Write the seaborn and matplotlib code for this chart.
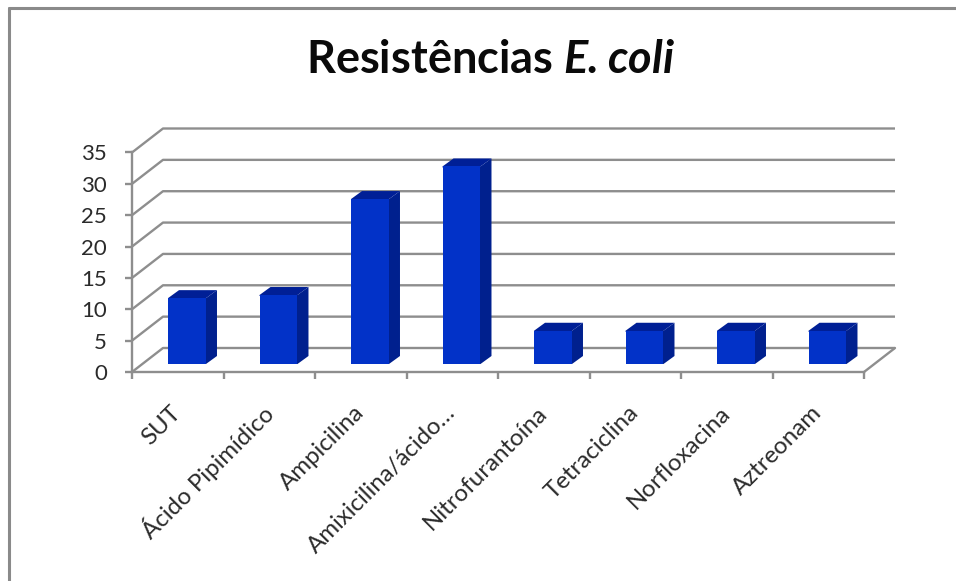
import matplotlib
matplotlib.use("Agg")
import matplotlib.pyplot as plt
from matplotlib.lines import Line2D
from matplotlib.patches import Polygon
import seaborn as sns

categories = ["SUT", "Ácido Pipimídico", "Ampicilina", "Amixicilina/ácido…",
              "Nitrofurantoína", "Tetraciclina", "Norfloxacina", "Aztreonam"]
resistance = [10.5, 11.0, 26.3, 31.5, 5.3, 5.3, 5.3, 5.3]
y_ticks = [0, 5, 10, 15, 20, 25, 30, 35]

W, H = 956, 581
LEFT, RIGHT, BASE, TOP = 132, 864, 372, 152.5
PX_X = (RIGHT - LEFT) / len(categories)
PX_Y = (BASE - TOP) / 35

FRONT = "#0232C8"
SIDE = "#00208E"
CAP = "#001F96"
GRID = "#8E8E8E"
TEXT = "#2B2B2B"

sns.set_theme(style="white")
plt.rcParams["font.family"] = ["Lato", "DejaVu Sans"]
plt.rcParams["mathtext.fontset"] = "custom"
plt.rcParams["mathtext.bfit"] = "Lato:italic:bold"
plt.rcParams["mathtext.rm"] = "Lato:bold"

fig = plt.figure(figsize=(W / 100, H / 100), dpi=100, facecolor="white")


def box(dx=0.0, dy=0.0):
    return [(LEFT + dx) / W, (H - BASE + dy) / H, (RIGHT - LEFT) / W, (BASE - TOP) / H]


# Front plane: axis lines, ticks and the receding floor and wall grid
ax = fig.add_axes(box())
ax.set_xlim(-0.5, len(categories) - 0.5)
ax.set_ylim(0, 35)
ax.patch.set_alpha(0)
for side in ("top", "right"):
    ax.spines[side].set_visible(False)
for side in ("left", "bottom"):
    ax.spines[side].set_color(GRID)
    ax.spines[side].set_linewidth(1.7)

depth_x = 31 / PX_X
depth_y = 24 / PX_Y
x0, x1 = ax.get_xlim()
for v in y_ticks:
    ax.plot([x0, x0 + depth_x, x1 + depth_x], [v, v + depth_y, v + depth_y],
            color=GRID, lw=1.7, clip_on=False, solid_capstyle="butt", zorder=1)
ax.plot([x1, x1 + depth_x], [0, depth_y], color=GRID, lw=1.7, clip_on=False, zorder=1)

ax.set_yticks(y_ticks)
ax.set_yticklabels([str(v) for v in y_ticks], fontsize=16, color=TEXT)
ax.set_xticks([i - 0.5 for i in range(len(categories) + 1)])
ax.set_xticklabels([])
ax.set_xticks(range(len(categories)), minor=True)
ax.set_xticklabels(categories, minor=True, rotation=45, ha="right", va="center",
                   rotation_mode="anchor", fontsize=17.3, color=TEXT)
ax.tick_params(axis="both", which="major", length=5, width=1.7, color=GRID, left=True, bottom=True)
ax.tick_params(axis="y", pad=13)
ax.tick_params(axis="x", which="minor", length=0, pad=27)

# Bars stand a little behind the front plane, so they get their own shifted axes
bars = fig.add_axes(box(9.25, 8))
bars.patch.set_alpha(0)
sns.barplot(x=categories, y=resistance, color=FRONT, saturation=1, width=0.415,
            edgecolor="none", linewidth=0, ax=bars, zorder=3)
bars.set_xlim(-0.5, len(categories) - 0.5)
bars.set_ylim(0, 35)
bars.axis("off")

bar_dx = 11 / PX_X
bar_dy = 8 / PX_Y
half = 0.415 / 2
# Side and cap faces tuck one pixel under the front face so no seam shows
tuck_x = 1 / PX_X
tuck_y = 1 / PX_Y
for i, v in enumerate(resistance):
    l, r = i - half, i + half
    bars.add_patch(Polygon([(r - tuck_x, 0), (r, 0), (r + bar_dx, bar_dy), (r + bar_dx, v + bar_dy),
                            (r, v), (r - tuck_x, v)],
                           closed=True, fc=SIDE, ec="none", clip_on=False, zorder=2))
    bars.add_patch(Polygon([(l, v - tuck_y), (l, v), (l + bar_dx, v + bar_dy), (r + bar_dx, v + bar_dy),
                            (r, v), (r, v - tuck_y)],
                           closed=True, fc=CAP, ec="none", clip_on=False, zorder=2))

fig.text(490 / W, 1 - 60 / H, r"Resistências $\mathbfit{E.}\mathbfit{coli}$", ha="center", va="center",
         fontsize=32.5, color="#0A0A0A", fontweight="bold")

# Chart frame, visible along the top and left edges
frame = dict(color="#8A8A8A", lw=2.2, transform=fig.transFigure)
fig.add_artist(Line2D([8.5 / W, 8.5 / W], [0, 1 - 8 / H], **frame))
fig.add_artist(Line2D([8.5 / W, 1], [1 - 8 / H, 1 - 8 / H], **frame))

fig.savefig("out.png", dpi=100)
